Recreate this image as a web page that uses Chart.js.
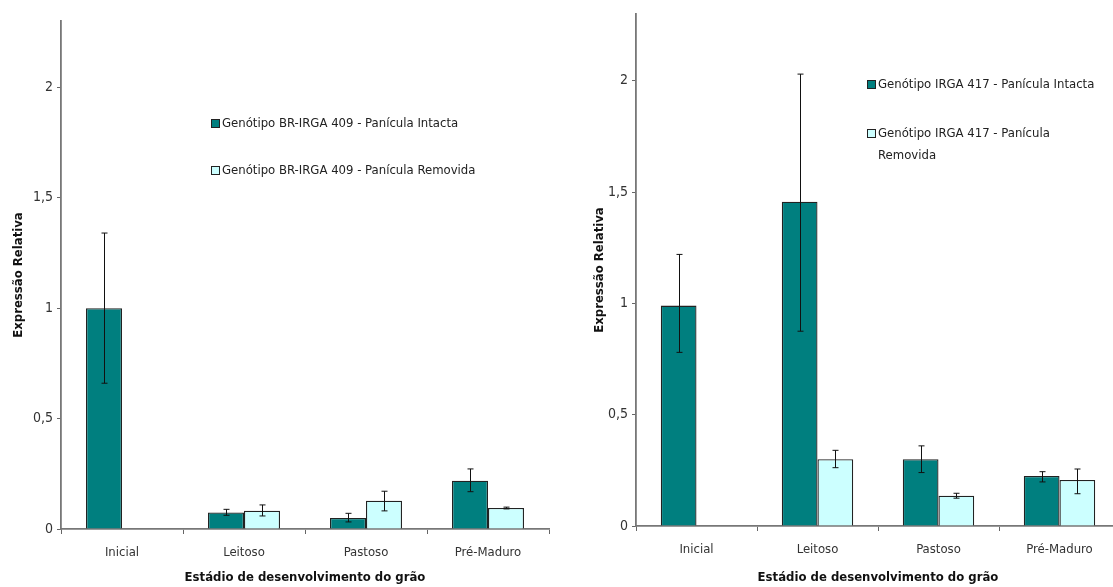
<!DOCTYPE html>
<html>
<head>
<meta charset="utf-8">
<script src="https://cdn.jsdelivr.net/npm/chart.js@4.4.0/dist/chart.umd.min.js"></script>
<style>
  body { margin: 0; background: #fff; width: 1113px; height: 587px; overflow: hidden; position: relative; }
  .box { position: absolute; top: 0; height: 587px; }
  .legend { position: absolute; font-family: 'Liberation Sans Narrow', 'DejaVu Sans Condensed', sans-serif; font-size: 13px; color: #222; }
  .legend .item { position: absolute; left: 0; white-space: nowrap; line-height: 22px; }
  .legend .mark { position: absolute; left: 0; top: 7px; width: 7px; height: 7px; border: 1px solid #222; }
  .legend .txt { position: absolute; left: 11px; top: 0; }
</style>
</head>
<body>
<div class="box" style="left:0;width:560px"><canvas id="chartA"></canvas></div>
<div class="box" style="left:556px;width:580px"><canvas id="chartB"></canvas></div>
<div class="legend" id="legendA" style="left:211px;top:112px"></div>
<div class="legend" id="legendB" style="left:867px;top:73px"></div>

<script>
// Dados
const estadios = ['Inicial', 'Leitoso', 'Pastoso', 'Pré-Maduro'];

// Genótipo BR-IRGA 409
const br409Intacta = [1.0, 0.075, 0.05, 0.219];
const br409IntactaSup = [1.34, 0.089, 0.071, 0.272];
const br409IntactaInf = [0.66, 0.062, 0.032, 0.169];
const br409Removida = [null, 0.083, 0.128, 0.095];
const br409RemovidaSup = [null, 0.109, 0.171, 0.099];
const br409RemovidaInf = [null, 0.059, 0.082, 0.091];

// Genótipo IRGA 417
const irga417Intacta = [0.99, 1.457, 0.30, 0.225];
const irga417IntactaSup = [1.22, 2.03, 0.36, 0.244];
const irga417IntactaInf = [0.78, 0.875, 0.24, 0.198];
const irga417Removida = [null, 0.30, 0.136, 0.207];
const irga417RemovidaSup = [null, 0.34, 0.147, 0.256];
const irga417RemovidaInf = [null, 0.262, 0.125, 0.145];

const yTicks = [0, 0.5, 1, 1.5, 2];

const corEscura = '#007f7f';
const corClara = '#ccffff';
const fonte = "'Liberation Sans Narrow', 'DejaVu Sans Condensed', sans-serif";

// Plugin para desenhar as barras de erro
const errorBars = {
    id: 'errorBars',
    afterDatasetsDraw(chart) {
        const ctx = chart.ctx;
        const y = chart.scales.y;
        ctx.save();
        ctx.strokeStyle = '#111';
        ctx.lineWidth = 1;
        chart.data.datasets.forEach((ds, i) => {
            const meta = chart.getDatasetMeta(i);
            meta.data.forEach((bar, j) => {
                if (ds.data[j] == null) return;
                const x = Math.round(bar.x) + 0.5;
                const top = y.getPixelForValue(ds.errHigh[j]);
                const bot = y.getPixelForValue(ds.errLow[j]);
                ctx.beginPath();
                ctx.moveTo(x, top); ctx.lineTo(x, bot);
                ctx.moveTo(x - 3, top); ctx.lineTo(x + 3, top);
                ctx.moveTo(x - 3, bot); ctx.lineTo(x + 3, bot);
                ctx.stroke();
            });
        });
        ctx.restore();
    }
};

function makeChart(id, labels, s1, s1hi, s1lo, s2, s2hi, s2lo, g) {
    return new Chart(document.getElementById(id), {
        type: 'bar',
        data: {
            labels: estadios,
            datasets: [{
                label: labels[0],
                data: s1, errHigh: s1hi, errLow: s1lo,
                backgroundColor: corEscura, borderColor: '#222', borderWidth: 1.3
            }, {
                label: labels[1],
                data: s2, errHigh: s2hi, errLow: s2lo,
                backgroundColor: corClara, borderColor: '#222', borderWidth: 1.3
            }]
        },
        options: {
            responsive: false,
            animation: false,
            events: [],
            categoryPercentage: 0.59,
            barPercentage: 1.0,
            layout: { padding: { top: g.top, right: g.right, left: 0, bottom: 0 } },
            plugins: { legend: { display: false }, tooltip: { enabled: false } },
            scales: {
                x: {
                    offset: true,
                    grid: { drawOnChartArea: false, offset: true, tickLength: 5, color: '#666' },
                    border: { color: '#777', width: 1.8 },
                    ticks: { font: { family: fonte, size: 13 }, color: '#333', padding: 11 },
                    title: { display: true, text: 'Estádio de desenvolvimento do grão',
                             font: { family: fonte, size: 13, weight: 'bold' }, color: '#111',
                             padding: { top: 0, bottom: 2 } },
                    afterFit(s) { s.height = g.xh; }
                },
                y: {
                    min: 0, max: 2.3,
                    afterBuildTicks(s) { s.ticks = yTicks.map(v => ({ value: v })); },
                    grid: { drawOnChartArea: false, tickLength: 4, color: '#666' },
                    border: { color: '#777', width: 1.8 },
                    ticks: { font: { family: fonte, size: 14 }, color: '#333', padding: 4,
                             callback: v => String(v).replace('.', ',') },
                    title: { display: true, text: 'Expressão Relativa',
                             font: { family: fonte, size: 13, weight: 'bold' }, color: '#111',
                             padding: { top: g.titlePad, bottom: 0 } },
                    afterFit(s) { s.width = g.yw; }
                }
            }
        },
        plugins: [errorBars]
    });
}

function buildLegend(chart, el, tops, width) {
    chart.data.datasets.forEach((ds, i) => {
        const item = document.createElement('div');
        item.className = 'item';
        item.style.top = tops[i] + 'px';
        const mark = document.createElement('span');
        mark.className = 'mark';
        mark.style.background = ds.backgroundColor;
        const txt = document.createElement('span');
        txt.className = 'txt';
        txt.textContent = ds.label;
        if (width) { txt.style.whiteSpace = 'normal'; txt.style.width = width + 'px'; }
        item.appendChild(mark);
        item.appendChild(txt);
        el.appendChild(item);
    });
}

const cA = document.getElementById('chartA');
cA.width = 560; cA.height = 587;
const cB = document.getElementById('chartB');
cB.width = 580; cB.height = 587;

const chartA = makeChart('chartA',
    ['Genótipo BR-IRGA 409 - Panícula Intacta', 'Genótipo BR-IRGA 409 - Panícula Removida'],
    br409Intacta, br409IntactaSup, br409IntactaInf,
    br409Removida, br409RemovidaSup, br409RemovidaInf,
    { top: 21, right: 11, xh: 58, yw: 61, titlePad: 11 });

const chartB = makeChart('chartB',
    ['Genótipo IRGA 417 - Panícula Intacta', 'Genótipo IRGA 417 - Panícula Removida'],
    irga417Intacta, irga417IntactaSup, irga417IntactaInf,
    irga417Removida, irga417RemovidaSup, irga417RemovidaInf,
    { top: 14, right: 16, xh: 61, yw: 80, titlePad: 36 });

buildLegend(chartA, document.getElementById('legendA'), [0, 47]);
buildLegend(chartB, document.getElementById('legendB'), [0, 49], 222);
</script>
</body>
</html>
